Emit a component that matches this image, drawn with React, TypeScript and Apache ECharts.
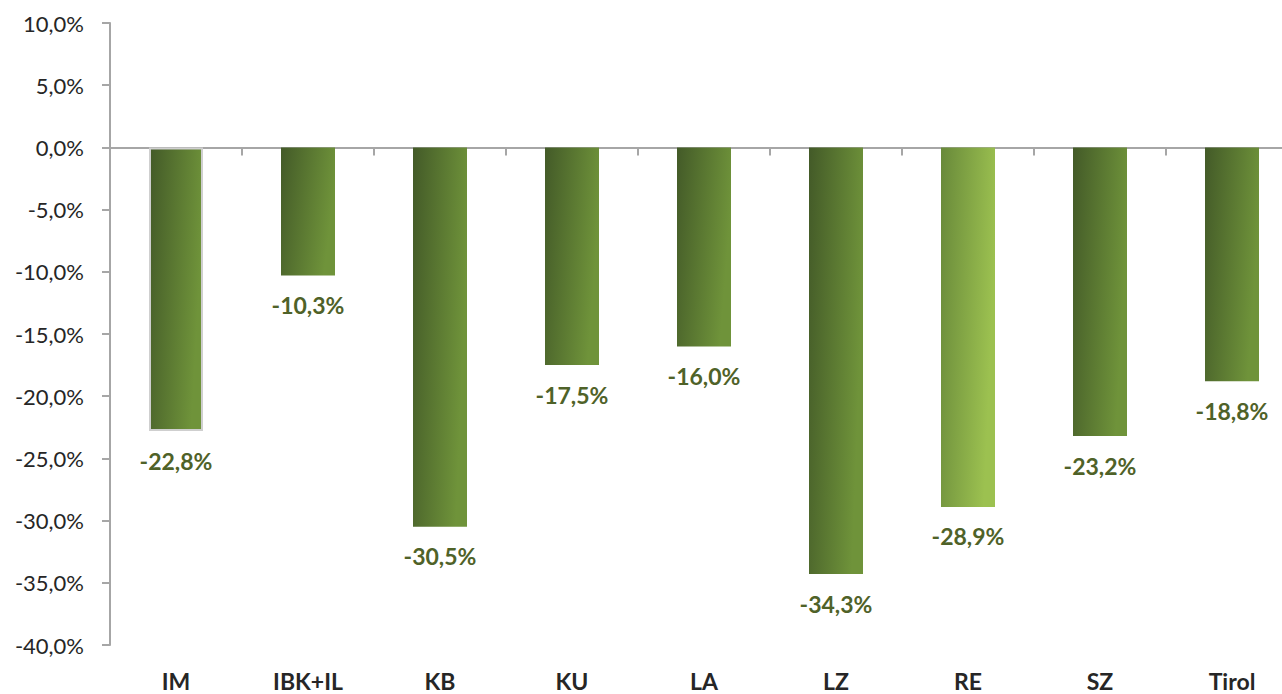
import React, { useEffect, useRef } from "react";
import * as echarts from "echarts";

const categories = ["IM", "IBK+IL", "KB", "KU", "LA", "LZ", "RE", "SZ", "Tirol"];
const values = [-22.8, -10.3, -30.5, -17.5, -16.0, -34.3, -28.9, -23.2, -18.8];
const yTicks = { min: -40, max: 10, interval: 5 };

const fmt = (v: number) => v.toFixed(1).replace(".", ",") + "%";

const darkGrad = () =>
  new echarts.graphic.LinearGradient(0, 0, 1, 0.3, [
    { offset: 0, color: "#435a28" },
    { offset: 1, color: "#6f933a" },
  ]);
const lightGrad = () =>
  new echarts.graphic.LinearGradient(0, 0, 1, 0.3, [
    { offset: 0, color: "#68893a" },
    { offset: 1, color: "#9cc150" },
  ]);

export default function App() {
  const ref = useRef<HTMLDivElement>(null);
  useEffect(() => {
    if (!ref.current) return;
    const chart = echarts.init(ref.current, undefined, { renderer: "svg" });
    const font = "Lato, 'Open Sans', sans-serif";
    chart.setOption({
      animation: false,
      grid: { left: 110, right: 0, top: 23, bottom: 49, containLabel: false },
      xAxis: [
        {
          type: "category",
          data: categories,
          axisLine: { onZero: true, lineStyle: { color: "#a6a6a6", width: 2 } },
          axisTick: { show: true, length: 8, lineStyle: { color: "#a6a6a6", width: 2 } },
          axisLabel: { show: false },
        },
        {
          type: "category",
          data: categories,
          position: "bottom",
          axisLine: { show: false, onZero: false },
          axisTick: { show: false },
          axisLabel: {
            show: true,
            margin: 24,
            fontFamily: font,
            fontSize: 23,
            fontWeight: "bold",
            color: "#262626",
          },
        },
      ],
      yAxis: {
        type: "value",
        min: yTicks.min,
        max: yTicks.max,
        interval: yTicks.interval,
        axisLine: { show: true, lineStyle: { color: "#a6a6a6", width: 2 } },
        axisTick: { show: true, length: 8, lineStyle: { color: "#a6a6a6", width: 2 } },
        splitLine: { show: false },
        axisLabel: {
          formatter: (v: number) => fmt(v),
          fontFamily: font,
          fontSize: 22,
          color: "#262626",
          margin: 26,
        },
      },
      series: [
        {
          type: "bar",
          xAxisIndex: 0,
          barWidth: 54,
          data: values.map((v, i) => ({
            value: v,
            itemStyle: {
              color: categories[i] === "RE" ? lightGrad() : darkGrad(),
              borderColor: categories[i] === "IM" ? "#cfcfcf" : undefined,
              borderWidth: categories[i] === "IM" ? 2 : 0,
            },
          })),
          label: {
            show: true,
            position: "bottom",
            distance: 18,
            formatter: (p: any) => fmt(p.value),
            fontFamily: font,
            fontSize: 23,
            fontWeight: "bold",
            color: "#4f6228",
          },
        },
      ],
    });
    return () => chart.dispose();
  }, []);
  return (
    <div
      style={{ position: "absolute", left: 0, top: 0, width: 1282, height: 694, overflow: "hidden", background: "#fff" }}
    >
      <div ref={ref} style={{ width: 1298, height: 694 }} />
    </div>
  );
}
